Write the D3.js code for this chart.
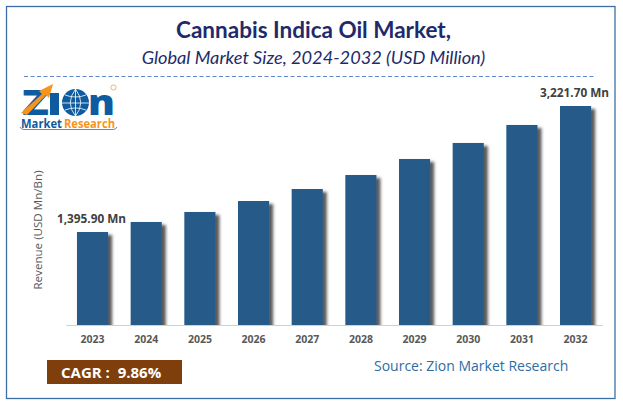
<!DOCTYPE html>
<html>
<head>
<meta charset="utf-8">
<script src="https://cdn.jsdelivr.net/npm/d3@7"></script>
<style>
html, body { margin: 0; padding: 0; background: #fff; }
svg { display: block; }
text { font-family: "Open Sans", "Noto Sans", sans-serif; }
</style>
</head>
<body>
<div id="chart"></div>
<script>
//Data
var years = ["2023", "2024", "2025", "2026", "2027", "2028", "2029", "2030", "2031", "2032"];
var revenue = [1395.9, 1541, 1686, 1845, 2019, 2222, 2454, 2686, 2947, 3221.7];
var valueLabels = ["1,395.90 Mn", "", "", "", "", "", "", "", "", "3,221.70 Mn"];

var width = 623, height = 406;

var svg = d3.select("#chart").append("svg")
	.attr("width", width)
	.attr("height", height);

//Bar shadow
var filter = svg.append("defs").append("filter")
	.attr("id", "barShadow")
	.attr("x", "-10%").attr("y", "-5%")
	.attr("width", "140%").attr("height", "105%");
filter.append("feDropShadow")
	.attr("dx", 4).attr("dy", 3)
	.attr("stdDeviation", 1.8)
	.attr("flood-color", "#222")
	.attr("flood-opacity", 0.75);

//Frame
svg.append("rect")
	.attr("x", 6.5).attr("y", 6.5)
	.attr("width", 608.5).attr("height", 392)
	.attr("fill", "#fff")
	.attr("stroke", "#3c70a4")
	.attr("stroke-width", 1.3);

//Titles
svg.append("text")
	.attr("x", 313.5).attr("y", 38)
	.attr("text-anchor", "middle")
	.attr("style", "font-family: Lato, sans-serif")
	.attr("font-size", 22.5)
	.attr("font-weight", 700)
	.attr("fill", "#1f2a6b")
	.text("Cannabis Indica Oil Market,");
svg.append("text")
	.attr("x", 313.5).attr("y", 64)
	.attr("text-anchor", "middle")
	.attr("style", "font-family: Lato, sans-serif")
	.attr("font-size", 18.2)
	.attr("font-style", "italic")
	.attr("fill", "#1f2a6b")
	.text("Global Market Size, 2024-2032 (USD Million)");

svg.append("line")
	.attr("x1", 24).attr("x2", 596)
	.attr("y1", 76.5).attr("y2", 76.5)
	.attr("stroke", "#5b86cc")
	.attr("stroke-width", 1)
	.attr("stroke-dasharray", "4 2.5");

//Scales
var x = d3.scaleBand()
	.domain(years)
	.range([65.7, 602.4])
	.paddingInner(0.42)
	.paddingOuter(0.21);

var y = d3.scaleLinear()
	.domain([48, 3221.7])
	.range([325, 106]);

//Bars
svg.selectAll(".bar")
	.data(revenue)
	.enter().append("rect")
	.attr("class", "bar")
	.attr("x", function(d, i) { return x(years[i]); })
	.attr("y", function(d) { return y(d); })
	.attr("width", x.bandwidth())
	.attr("height", function(d) { return y.range()[0] - y(d); })
	.attr("fill", "#285a88")
	.attr("filter", "url(#barShadow)");

//Value labels
svg.selectAll(".value")
	.data(revenue)
	.enter().append("text")
	.attr("class", "value")
	.attr("x", function(d, i) { return x(years[i]) + x.bandwidth() / 2 + (i == 0 ? -1 : 0) + (i == 9 ? -1 : 0); })
	.attr("y", function(d) { return y(d) - 9; })
	.attr("text-anchor", "middle")
	.attr("font-size", 11.8)
	.attr("font-weight", 700)
	.attr("fill", "#404040")
	.text(function(d, i) { return valueLabels[i]; });

//Axis
var axis = svg.append("g")
	.attr("transform", "translate(0,325)")
	.call(d3.axisBottom(x).tickSize(0).tickPadding(11));
axis.select(".domain").attr("stroke", "#d0d0d0").attr("stroke-width", 1);
axis.selectAll("text")
	.attr("style", "font-family: 'Open Sans', sans-serif")
	.attr("font-size", 10.5)
	.attr("font-weight", 700)
	.attr("fill", "#595959");

svg.append("text")
	.attr("transform", "translate(42,230) rotate(-90)")
	.attr("text-anchor", "middle")
	.attr("font-size", 11.6)
	.attr("fill", "#595959")
	.text("Revenue (USD Mn/Bn)");

//CAGR box
svg.append("rect")
	.attr("x", 47).attr("y", 360)
	.attr("width", 135).attr("height", 24)
	.attr("fill", "#7f3f0d");
svg.append("text")
	.attr("x", 61).attr("y", 378)
	.attr("font-size", 15)
	.attr("font-weight", 700)
	.attr("fill", "#fff")
	.attr("xml:space", "preserve")
	.text("CAGR :  9.86%");

//Source
svg.append("text")
	.attr("x", 374).attr("y", 371)
	.attr("font-size", 14)
	.attr("fill", "#2e6da4")
	.text("Source: Zion Market Research");

//Logo
var logo = svg.append("g");
logo.append("text")
	.attr("x", 22).attr("y", 115)
	.attr("font-size", 35)
	.attr("font-weight", 800)
	.attr("fill", "#0f5ba0")
	.attr("textLength", 27)
	.attr("lengthAdjust", "spacingAndGlyphs")
	.text("Z");
logo.append("path")
	.attr("d", "M21 113 L42 94 L39 91 L53 84 L49 98 L46 95 L27 115 Z")
	.attr("fill", "#f7941d");
logo.append("rect")
	.attr("x", 50).attr("y", 93)
	.attr("width", 9).attr("height", 22)
	.attr("fill", "#0f5ba0");
logo.append("circle")
	.attr("cx", 75.5).attr("cy", 102.5)
	.attr("r", 13.5)
	.attr("fill", "#0f5ba0");
logo.append("path")
	.attr("d", "M62 103 H89 M75.5 89 V116 M65 95 Q75.5 99 86 95 M65 110 Q75.5 106 86 110 M75.5 89 Q65 103 75.5 116 M75.5 89 Q86 103 75.5 116")
	.attr("fill", "none")
	.attr("stroke", "#fff")
	.attr("stroke-width", 0.8);
logo.append("text")
	.attr("x", 88).attr("y", 115)
	.attr("font-size", 35)
	.attr("font-weight", 800)
	.attr("fill", "#0f5ba0")
	.attr("textLength", 27)
	.attr("lengthAdjust", "spacingAndGlyphs")
	.text("n");
logo.append("circle")
	.attr("cx", 113.5).attr("cy", 87.5)
	.attr("r", 2.6)
	.attr("fill", "none")
	.attr("stroke", "#f7941d")
	.attr("stroke-width", 0.7);
logo.append("text")
	.attr("x", 21).attr("y", 128)
	.attr("font-size", 12)
	.attr("font-weight", 700)
	.attr("fill", "#0f5ba0")
	.attr("textLength", 41)
	.attr("lengthAdjust", "spacingAndGlyphs")
	.text("Market");
logo.append("text")
	.attr("x", 64).attr("y", 128)
	.attr("font-size", 12)
	.attr("font-weight", 700)
	.attr("fill", "#f7941d")
	.attr("textLength", 51)
	.attr("lengthAdjust", "spacingAndGlyphs")
	.text("Research");
logo.append("path")
	.attr("d", "M20 127 Q21 129.5 24 129.5 H113 Q116 129.5 117 127")
	.attr("fill", "none")
	.attr("stroke", "#0f5ba0")
	.attr("stroke-width", 0.7);
</script>
</body>
</html>
